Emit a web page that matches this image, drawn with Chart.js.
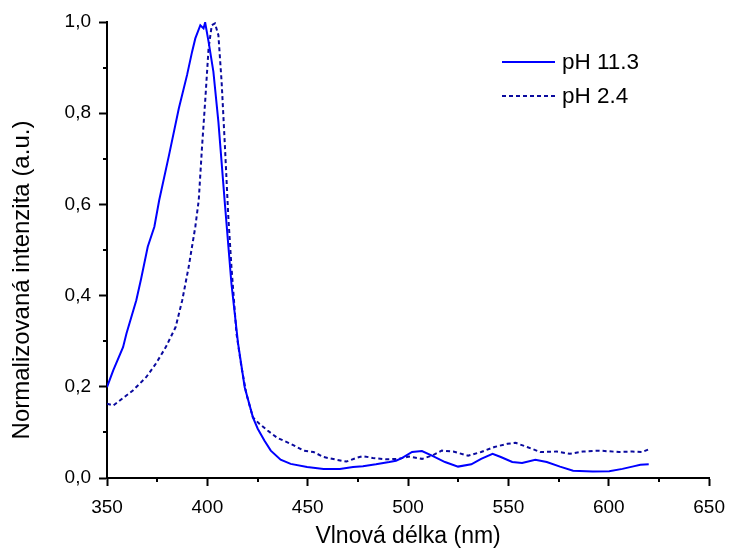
<!DOCTYPE html>
<html>
<head>
<meta charset="utf-8">
<script src="https://cdn.jsdelivr.net/npm/chart.js@4.4.1/dist/chart.umd.min.js"></script>
<style>
  html, body { margin: 0; padding: 0; background: #ffffff; }
  #wrap { width: 735px; height: 548px; }
</style>
</head>
<body>
<div id="wrap"><canvas id="c" width="735" height="548"></canvas></div>
<script>
// ---- data ----
const seriesNames = ["pH 11.3", "pH 2.4"];

const wlBasic = [350, 353.1, 358, 359.7, 364.6, 367, 370.3, 373.6, 376, 380.9, 385.8, 389.9, 392.4, 394, 396.5, 398.1, 398.9, 400.6, 403, 405.5, 408.8, 412, 415.3, 418.6, 422.7, 425.1, 428.4, 431.6, 436.5, 441.5, 449.7, 457.9, 466, 472.6, 477.5, 484, 490.6, 494, 497.1, 502, 506.9, 511.9, 518.4, 524.9, 531.5, 536.4, 542.1, 546.2, 551.9, 556.8, 563.4, 569.1, 575.7, 582.2, 592, 600.2, 606.8, 611.7, 615.7, 619.9];
const intBasic = [0.199, 0.236, 0.287, 0.317, 0.39, 0.437, 0.507, 0.551, 0.609, 0.708, 0.811, 0.884, 0.935, 0.964, 0.993, 0.986, 0.999, 0.957, 0.891, 0.781, 0.598, 0.426, 0.295, 0.199, 0.133, 0.108, 0.082, 0.06, 0.04, 0.031, 0.024, 0.02, 0.02, 0.024, 0.026, 0.03, 0.035, 0.038, 0.044, 0.057, 0.059, 0.049, 0.035, 0.025, 0.03, 0.042, 0.053, 0.046, 0.035, 0.033, 0.04, 0.035, 0.025, 0.016, 0.014, 0.015, 0.02, 0.025, 0.029, 0.03];

const wlAcid = [350, 353.1, 356.4, 362.9, 369.5, 374.4, 379.3, 384.2, 387.5, 390.7, 394, 395.7, 397.3, 399, 400.6, 402.2, 403.8, 405.5, 407.1, 408.8, 410.4, 412, 414.5, 417, 419.4, 422.7, 425.9, 430, 434.9, 441.5, 448, 452.9, 457.9, 464.4, 469.3, 474.2, 477.5, 482.4, 489, 495.5, 500.4, 507, 511.9, 516.8, 522.5, 529.9, 536.4, 543, 549.5, 553.6, 559.3, 565.9, 574, 580.6, 587.1, 595.3, 605.1, 611.7, 616.6, 619.9];
const intAcid = [0.163, 0.159, 0.17, 0.192, 0.221, 0.251, 0.287, 0.331, 0.39, 0.463, 0.551, 0.609, 0.723, 0.832, 0.942, 0.993, 0.997, 0.971, 0.869, 0.723, 0.576, 0.463, 0.317, 0.243, 0.185, 0.133, 0.119, 0.104, 0.088, 0.075, 0.06, 0.057, 0.046, 0.04, 0.036, 0.044, 0.048, 0.044, 0.041, 0.042, 0.047, 0.042, 0.049, 0.06, 0.058, 0.049, 0.057, 0.068, 0.075, 0.077, 0.068, 0.057, 0.058, 0.053, 0.058, 0.06, 0.057, 0.058, 0.057, 0.063];

const xMajorStep = 50;
const yMajorStep = 0.2;
const xMinorTicks = [375, 425, 475, 525, 575, 625];
const yMinorTicks = [0.1, 0.3, 0.5, 0.7, 0.9];

const xTitle = "Vlnová délka (nm)";
const yTitle = "Normalizovaná intenzita (a.u.)";

// ---- build ----
const toPoints = (xs, ys) => xs.map((x, i) => ({ x: x, y: ys[i] }));
const FONT = "'Liberation Sans', Arial, sans-serif";

const minorTicksPlugin = {
  id: 'minorTicks',
  afterDraw(chart) {
    const ctx = chart.ctx;
    const xs = chart.scales.x, ys = chart.scales.y;
    const ca = chart.chartArea;
    ctx.save();
    ctx.strokeStyle = '#000';
    ctx.lineWidth = 2;
    ctx.beginPath();
    xMinorTicks.forEach(v => {
      const px = Math.round(xs.getPixelForValue(v));
      ctx.moveTo(px, ca.bottom);
      ctx.lineTo(px, ca.bottom + 4);
    });
    yMinorTicks.forEach(v => {
      const py = Math.round(ys.getPixelForValue(v));
      ctx.moveTo(ca.left - 4, py);
      ctx.lineTo(ca.left, py);
    });
    ctx.stroke();
    ctx.restore();
  }
};

const insideLegendPlugin = {
  id: 'insideLegend',
  afterDraw(chart) {
    const ctx = chart.ctx;
    const ca = chart.chartArea;
    const x0 = ca.left + 395;
    const y0 = ca.top + 40;
    const rowGap = 34;
    ctx.save();
    chart.data.datasets.forEach((ds, i) => {
      const y = y0 + i * rowGap;
      ctx.strokeStyle = ds.borderColor;
      ctx.lineWidth = ds.borderWidth;
      ctx.setLineDash(ds.borderDash || []);
      ctx.beginPath();
      ctx.moveTo(x0, y);
      ctx.lineTo(x0 + 53, y);
      ctx.stroke();
      ctx.setLineDash([]);
      ctx.fillStyle = '#000';
      ctx.font = "22.5px " + FONT;
      ctx.textBaseline = 'middle';
      ctx.textAlign = 'left';
      ctx.fillText(ds.label, x0 + 60, y + 1);
    });
    ctx.restore();
  }
};

new Chart(document.getElementById('c'), {
  type: 'line',
  data: {
    datasets: [
      {
        label: seriesNames[0],
        data: toPoints(wlBasic, intBasic),
        borderColor: '#0000ff',
        borderWidth: 2,
        pointRadius: 0,
        tension: 0,
        fill: false
      },
      {
        label: seriesNames[1],
        data: toPoints(wlAcid, intAcid),
        borderColor: '#0a0a9e',
        borderWidth: 2,
        borderDash: [4, 3],
        pointRadius: 0,
        tension: 0,
        fill: false
      }
    ]
  },
  options: {
    responsive: false,
    animation: false,
    devicePixelRatio: 1,
    layout: { padding: { top: 22, right: 18, left: 0, bottom: 0 } },
    plugins: {
      legend: { display: false },
      tooltip: { enabled: false }
    },
    scales: {
      x: {
        type: 'linear',
        min: 350,
        max: 650,
        afterFit(scale) { scale.height = 70; },
        ticks: {
          stepSize: xMajorStep,
          color: '#000',
          font: { family: FONT, size: 19 },
          padding: 10,
          maxRotation: 0
        },
        grid: {
          drawOnChartArea: false,
          drawTicks: true,
          tickLength: 8,
          tickWidth: 2,
          tickColor: '#000'
        },
        border: { display: true, color: '#000', width: 2 },
        title: {
          display: true,
          text: xTitle,
          color: '#000',
          font: { family: FONT, size: 23, lineHeight: 1 },
          padding: { top: 0, bottom: 0 }
        }
      },
      y: {
        type: 'linear',
        min: 0,
        max: 1,
        afterFit(scale) { scale.width = 107; },
        ticks: {
          stepSize: yMajorStep,
          color: '#000',
          font: { family: FONT, size: 19 },
          padding: 8,
          callback: v => v.toFixed(1).replace('.', ',')
        },
        grid: {
          drawOnChartArea: false,
          drawTicks: true,
          tickLength: 8,
          tickWidth: 2,
          tickColor: '#000'
        },
        border: { display: true, color: '#000', width: 2 },
        title: {
          display: true,
          text: yTitle + "         ",
          color: '#000',
          font: { family: FONT, size: 24, lineHeight: 1 },
          padding: { top: 10, bottom: 0 }
        }
      }
    }
  },
  plugins: [minorTicksPlugin, insideLegendPlugin]
});
</script>
</body>
</html>
